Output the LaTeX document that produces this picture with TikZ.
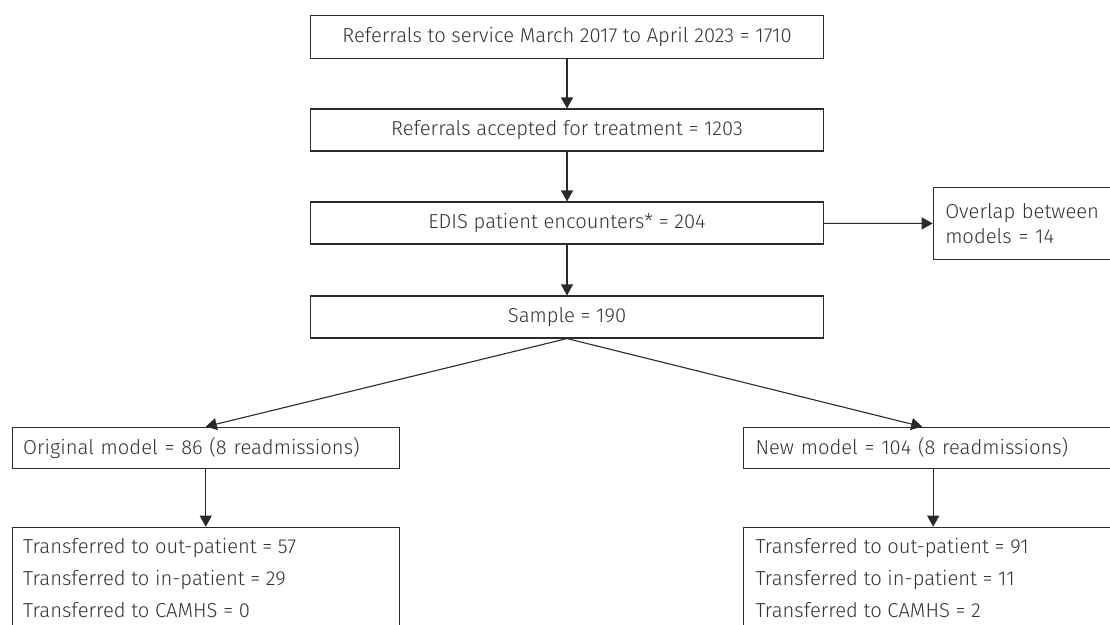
\documentclass[tikz,border=0pt]{standalone}
\usepackage{fontspec}
\setmainfont{Fira Sans}[UprightFont=* Light]
\usetikzlibrary{arrows.meta,calc}
\definecolor{linec}{HTML}{2A2A2A}
\definecolor{textc}{HTML}{333333}
\begin{document}
\begin{tikzpicture}[x=1pt,y=-1pt,
  box/.style={draw=linec, line width=1.1pt, inner sep=0pt, text=textc, font=\fontsize{20.2}{24}\selectfont},
  arr/.style={-{Triangle[length=11pt,width=12pt]}, line width=1.1pt, draw=linec}]
\useasboundingbox (0,0) rectangle (1110,624);
\clip (0,0) rectangle (1110,624);
\node[box, minimum width=512.6, minimum height=42.6] (b1) at (567,37) {Referrals to service March 2017 to April 2023 = 1710};
\node[box, minimum width=512.6, minimum height=42] (b2) at (567,130) {Referrals accepted for treatment = 1203};
\node[box, minimum width=512.6, minimum height=42] (b3) at (567,223) {EDIS patient encounters* = 204};
\node[box, minimum width=512.6, minimum height=42] (b4) at (567,317) {Sample = 190};
\node[box, anchor=north west, text width=193, inner xsep=12pt, minimum height=72.6, align=left, font=\fontsize{20.2}{25}\selectfont] (ov) at (932.7,186.7) {Overlap between\\models = 14};
\node[box, anchor=north west, text width=365, inner xsep=11pt, minimum height=41.3, align=left] (orig) at (11.7,426.7) {Original model = 86 (8 readmissions)};
\node[box, anchor=north west, text width=355.3, inner xsep=11.7pt, minimum height=41.3, align=left] (new) at (743.3,426.7) {New model = 104 (8 readmissions)};
\node[box, anchor=north west, inner xsep=11pt, inner ysep=11pt] (ol) at (11.7,526.7) {\parbox[t][110pt][t]{365pt}{\fontsize{20.2}{32}\selectfont\raggedright Transferred to out-patient = 57\\Transferred to in-patient = 29\\Transferred to CAMHS = 0}};
\node[box, anchor=north west, inner xsep=11.7pt, inner ysep=11pt] (nr) at (743.3,526.7) {\parbox[t][110pt][t]{355.3pt}{\fontsize{20.2}{32}\selectfont\raggedright Transferred to out-patient = 91\\Transferred to in-patient = 11\\Transferred to CAMHS = 2}};
\draw[arr] (b1) -- (b2);
\draw[arr] (b2) -- (b3);
\draw[arr] (b3) -- (b4);
\draw[arr] (b3) -- (ov);
\draw[arr] (b4.south) -- (orig.north);
\draw[arr] (b4.south) -- ($(new.north)+(-11,0)$);
\draw[arr] (orig.south) -- (ol.north);
\draw[arr] (new.south) -- (nr.north);
\end{tikzpicture}
\end{document}
